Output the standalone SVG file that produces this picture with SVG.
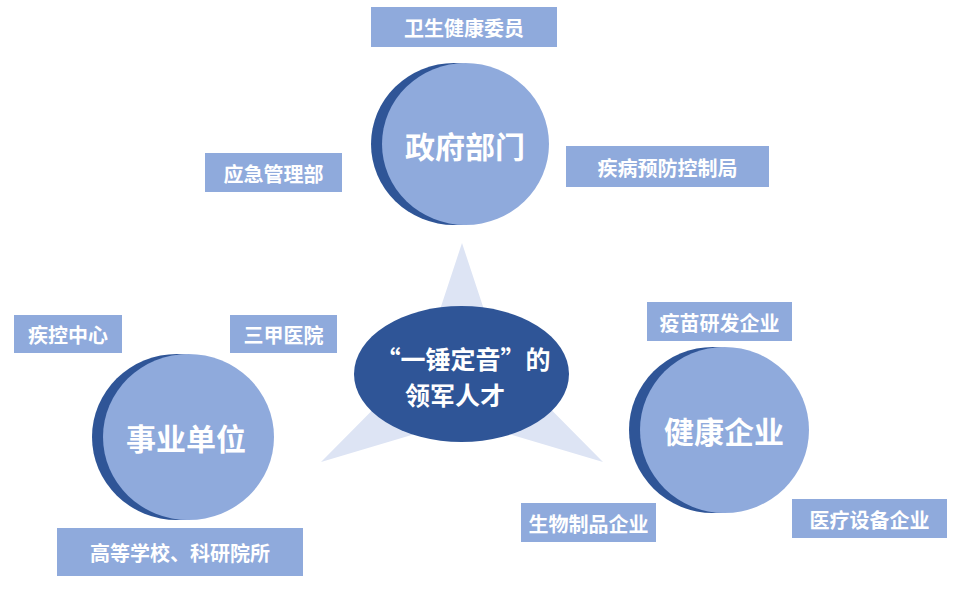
<svg xmlns="http://www.w3.org/2000/svg" width="960" height="589" viewBox="0 0 960 589">
<style>
.box{fill:#8FAADC}
.bt{fill:#FFFFFF;font-family:"Noto Sans CJK SC","Noto Sans",sans-serif;font-weight:bold;font-size:20px;text-anchor:middle;dominant-baseline:central}
.ct{fill:#FFFFFF;font-family:"Noto Sans CJK SC","Noto Sans",sans-serif;font-weight:bold;font-size:30px;text-anchor:middle;dominant-baseline:central}
.mt{fill:#FFFFFF;font-family:"Noto Sans CJK SC","Noto Sans",sans-serif;font-weight:bold;font-size:25px;text-anchor:middle;dominant-baseline:central}
.dk{fill:#2F5597}
.lt{fill:#8FAADC}
</style>
<rect width="960" height="589" fill="#FFFFFF"/>
<g id="connectors">
<polygon points="462,243 500,358 603,462 462,420 321,462 424,358" fill="#DDE4F4"/>
</g>
<g id="center">
<ellipse cx="461.5" cy="374" rx="107.5" ry="68" class="dk"/>
<text x="463" y="358" class="mt">“一锤定音”的</text>
<text x="455" y="394" class="mt">领军人才</text>
</g>
<g id="gov">
<ellipse cx="454" cy="144" rx="83" ry="81" class="dk"/>
<ellipse cx="465.5" cy="144" rx="83.5" ry="81" class="lt"/>
<text x="465" y="145" class="ct">政府部门</text>
</g>
<g id="inst">
<ellipse cx="177" cy="437" rx="85" ry="83" class="dk"/>
<ellipse cx="188.5" cy="437" rx="85.5" ry="83" class="lt"/>
<text x="186" y="437" class="ct">事业单位</text>
</g>
<g id="ent">
<ellipse cx="713" cy="430" rx="84" ry="83" class="dk"/>
<ellipse cx="724.5" cy="430" rx="84.5" ry="83" class="lt"/>
<text x="724" y="430" class="ct">健康企业</text>
</g>
<g id="b1"><rect x="371" y="7" width="186" height="40" class="box"/><text x="464" y="27" class="bt">卫生健康委员</text></g>
<g id="b2"><rect x="566" y="146" width="203" height="41" class="box"/><text x="667.5" y="167" class="bt">疾病预防控制局</text></g>
<g id="b3"><rect x="205" y="153" width="137" height="39" class="box"/><text x="273.5" y="173" class="bt">应急管理部</text></g>
<g id="b4"><rect x="14" y="315" width="108" height="38" class="box"/><text x="68" y="334" class="bt">疾控中心</text></g>
<g id="b5"><rect x="230" y="315" width="107" height="38" class="box"/><text x="283.5" y="334" class="bt">三甲医院</text></g>
<g id="b6"><rect x="57" y="528" width="246" height="48" class="box"/><text x="180" y="552" class="bt">高等学校、科研院所</text></g>
<g id="b7"><rect x="647" y="302" width="145" height="39" class="box"/><text x="719.5" y="322" class="bt">疫苗研发企业</text></g>
<g id="b8"><rect x="521" y="503" width="135" height="39" class="box"/><text x="588.5" y="523" class="bt">生物制品企业</text></g>
<g id="b9"><rect x="792" y="499" width="155" height="39" class="box"/><text x="869.5" y="519" class="bt">医疗设备企业</text></g>
</svg>
